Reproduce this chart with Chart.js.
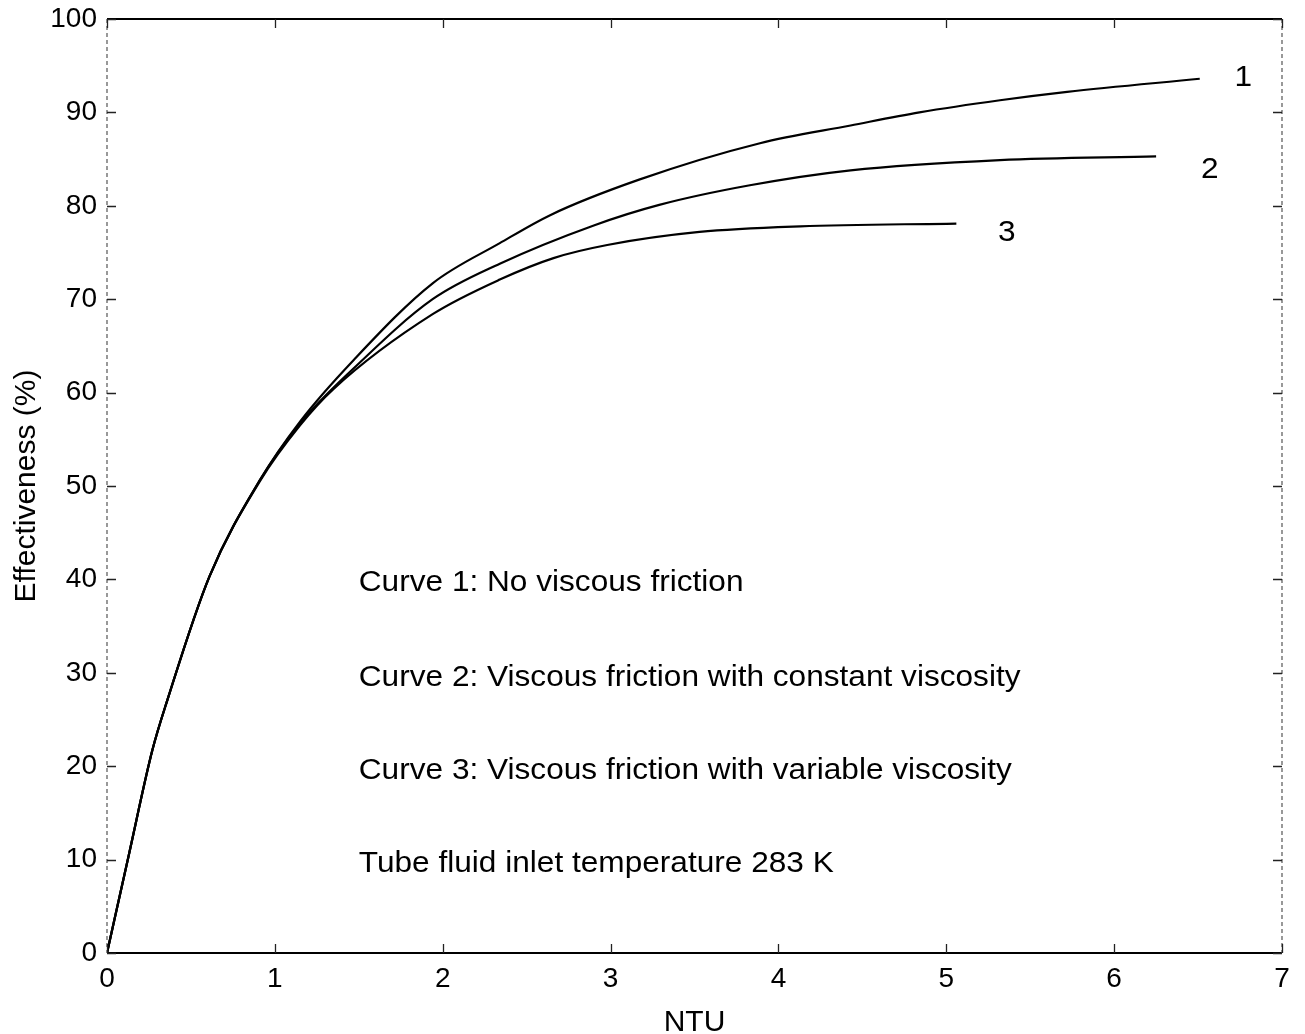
<!DOCTYPE html>
<html>
<head>
<meta charset="utf-8">
<title>Effectiveness vs NTU</title>
<script src="https://cdn.jsdelivr.net/npm/chart.js@4/dist/chart.umd.min.js"></script>
<style>
  html, body { margin: 0; padding: 0; background: #fff; }
  #wrap { width: 1305px; height: 1034px; }
</style>
</head>
<body>
<div id="wrap"><canvas id="c" width="1305" height="1034"></canvas></div>
<script>
// Curve 1: no viscous friction
const ntu1 = [0, 0.13, 0.27, 0.36, 0.61, 0.91, 1.15, 1.47, 1.94, 2.34, 2.64, 3.17, 3.89, 4.43, 4.84, 5.32, 5.72, 6.51];
const eff1 = [0, 10.5, 21.7, 27.1, 40.3, 50.6, 56.9, 63.5, 71.7, 76.0, 79.0, 82.8, 86.7, 88.6, 90.0, 91.3, 92.2, 93.6];

// Curve 2: viscous friction, constant viscosity
const ntu2 = [0, 0.13, 0.27, 0.36, 0.61, 0.91, 1.15, 1.47, 1.94, 2.34, 2.90, 3.29, 3.83, 4.43, 5.32, 6.25];
const eff2 = [0, 10.5, 21.7, 27.1, 40.3, 50.6, 56.7, 62.6, 70.0, 73.8, 77.9, 80.1, 82.2, 83.8, 84.9, 85.3];

// Curve 3: viscous friction, variable viscosity
const ntu3 = [0, 0.13, 0.27, 0.36, 0.61, 0.91, 1.15, 1.35, 1.94, 2.34, 2.66, 2.98, 3.53, 4.13, 5.06];
const eff3 = [0, 10.5, 21.7, 27.1, 40.3, 50.5, 56.5, 60.4, 68.4, 72.1, 74.4, 75.8, 77.2, 77.8, 78.1];

const xTicks = [0, 1, 2, 3, 4, 5, 6, 7];
const yTicks = [0, 10, 20, 30, 40, 50, 60, 70, 80, 90, 100];

// Curve numbers placed next to the curve ends (data coordinates)
const curveLabels = ['1', '2', '3'];
const curveLabelX = [6.77, 6.57, 5.36];
const curveLabelY = [93.7, 83.8, 77.1];

// Notes inside the plot (data coordinates of the left edge / middle line)
const notes = [
  'Curve 1: No viscous friction',
  'Curve 2: Viscous friction with constant viscosity',
  'Curve 3: Viscous friction with variable viscosity',
  'Tube fluid inlet temperature 283 K'
];
const noteX = 1.50;
const noteY = [39.6, 29.4, 19.5, 9.5];

const FONT = '"Liberation Sans", Arial, Helvetica, sans-serif';
const toPts = (xs, ys) => xs.map((x, i) => ({ x: x, y: ys[i] }));

const lineStyle = {
  borderColor: '#000',
  borderWidth: 2.2,
  pointRadius: 0,
  fill: false,
  showLine: true,
  cubicInterpolationMode: 'monotone'
};

// draws text slightly widened, as in the printed figure
function wideText(ctx, text, px, py, align) {
  const sx = 1.09;
  ctx.save();
  ctx.translate(px, py);
  ctx.scale(sx, 1);
  ctx.textAlign = align;
  ctx.fillText(text, 0, 0);
  ctx.restore();
}

// Frame with inward tick marks, plus curve numbers and notes
const framePlugin = {
  id: 'frame',
  afterDatasetsDraw(chart) {
    const { ctx, chartArea: a, scales: { x, y } } = chart;
    ctx.save();
    // top and bottom edges
    ctx.strokeStyle = '#000';
    ctx.lineWidth = 2;
    ctx.beginPath();
    ctx.moveTo(a.left, a.top); ctx.lineTo(a.right, a.top);
    ctx.moveTo(a.left, a.bottom); ctx.lineTo(a.right, a.bottom);
    ctx.stroke();
    // side edges, lighter
    ctx.strokeStyle = '#555';
    ctx.lineWidth = 1.2;
    ctx.setLineDash([4, 3]);
    ctx.beginPath();
    ctx.moveTo(a.left, a.top); ctx.lineTo(a.left, a.bottom);
    ctx.moveTo(a.right, a.top); ctx.lineTo(a.right, a.bottom);
    ctx.stroke();
    ctx.setLineDash([]);
    // inward tick marks
    const tl = 9;
    ctx.strokeStyle = '#222';
    ctx.lineWidth = 1.3;
    ctx.beginPath();
    xTicks.forEach(v => {
      const px = Math.round(x.getPixelForValue(v)) + 0.5;
      ctx.moveTo(px, a.bottom); ctx.lineTo(px, a.bottom - tl);
      ctx.moveTo(px, a.top); ctx.lineTo(px, a.top + tl);
    });
    yTicks.forEach(v => {
      const py = Math.round(y.getPixelForValue(v)) + 0.5;
      ctx.moveTo(a.left, py); ctx.lineTo(a.left + tl, py);
      ctx.moveTo(a.right, py); ctx.lineTo(a.right - tl, py);
    });
    ctx.stroke();

    ctx.fillStyle = '#000';
    ctx.font = '29px ' + FONT;
    ctx.textBaseline = 'middle';
    curveLabels.forEach((t, i) => {
      wideText(ctx, t, x.getPixelForValue(curveLabelX[i]), y.getPixelForValue(curveLabelY[i]), 'center');
    });
    notes.forEach((t, i) => {
      wideText(ctx, t, x.getPixelForValue(noteX), y.getPixelForValue(noteY[i]), 'left');
    });
    ctx.restore();
  }
};

new Chart(document.getElementById('c'), {
  type: 'scatter',
  data: {
    datasets: [
      Object.assign({ label: 'Curve 1', data: toPts(ntu1, eff1) }, lineStyle),
      Object.assign({ label: 'Curve 2', data: toPts(ntu2, eff2) }, lineStyle),
      Object.assign({ label: 'Curve 3', data: toPts(ntu3, eff3) }, lineStyle)
    ]
  },
  options: {
    responsive: false,
    animation: false,
    layout: { padding: { top: 19, right: 23, left: 0, bottom: 0 } },
    plugins: { legend: { display: false }, tooltip: { enabled: false } },
    scales: {
      x: {
        type: 'linear',
        min: 0, max: 7,
        afterFit(s) { s.height = 81; s.paddingLeft = 0; s.paddingRight = 0; },
        afterBuildTicks(s) { s.ticks = xTicks.map(v => ({ value: v })); },
        grid: { display: false, drawTicks: false },
        border: { display: false },
        ticks: { padding: 9, color: '#000', font: { family: FONT, size: 28 } },
        title: {
          display: true, text: 'NTU', color: '#000',
          font: { family: FONT, size: 30 }, padding: { top: 0, bottom: -7 }
        }
      },
      y: {
        type: 'linear',
        min: 0, max: 100,
        afterFit(s) { s.width = 107; s.paddingTop = 0; s.paddingBottom = 0; },
        afterBuildTicks(s) { s.ticks = yTicks.map(v => ({ value: v })); },
        grid: { display: false, drawTicks: false },
        border: { display: false },
        ticks: { padding: 10, color: '#000', font: { family: FONT, size: 28 } },
        title: {
          display: true, text: 'Effectiveness (%)', color: '#000',
          font: { family: FONT, size: 30 }, padding: { top: 9, bottom: 0 }
        }
      }
    }
  },
  plugins: [framePlugin]
});
</script>
</body>
</html>
